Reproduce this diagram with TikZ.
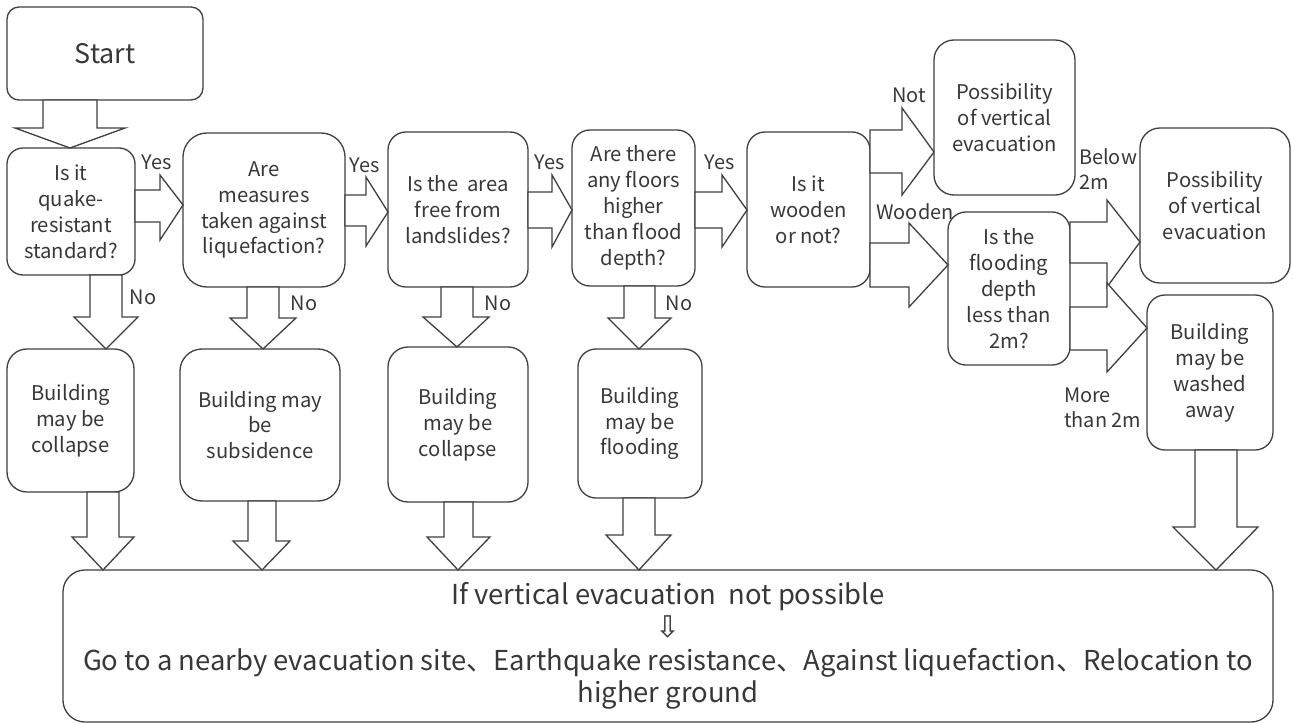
\documentclass[tikz,border=0pt]{standalone}
\usepackage{fontspec}
\setmainfont{Noto Sans CJK JP}
\newfontfamily\symfont{DejaVu Sans}
\definecolor{ln}{HTML}{404040}
\definecolor{tx}{HTML}{383838}
\tikzset{
 box/.style={draw=ln, line width=1.3bp, fill=white, align=center, inner sep=0pt, outer sep=0pt, text=tx, font=\fontsize{20.3}{26}\selectfont},
 blk/.style={draw=ln, line width=1.3bp, fill=white, line join=miter},
 lbl/.style={text=tx, font=\fontsize{20}{25}\selectfont, inner sep=0pt},
}
% right block arrow: from, to, head base x, shaft top y, shaft bottom y, head top y, head bottom y, tip y
\newcommand\rarr[8]{\draw[blk] (#1.east|-0,#4) -- (#3,#4) -- (#3,#6) -- (#2.west|-0,#8) -- (#3,#7) -- (#3,#5) -- (#1.east|-0,#5) -- cycle;}
% down block arrow: from, to, head base y, shaft left x, shaft right x, head left x, head right x, tip x
\newcommand\darr[8]{\draw[blk] (#4,0|-#1.south) -- (#4,#3) -- (#6,#3) -- (#8,0|-#2.north) -- (#7,#3) -- (#5,#3) -- (#5,0|-#1.south) -- cycle;}
\begin{document}
\begin{tikzpicture}[x=1bp,y=-1bp]
\fill[white] (0,0) rectangle (1293,724);
\useasboundingbox (0,0) rectangle (1293,724);
% nodes
\node[box, rounded corners=12bp, minimum width=196bp, minimum height=93bp, font=\fontsize{27}{32}\selectfont] (st) at (105,53.5) {Start};
\node[box, rounded corners=16bp, minimum width=128bp, minimum height=127bp] (q1) at (71,211.5) {Is it\\quake-\\resistant\\standard?};
\node[box, rounded corners=24bp, minimum width=162bp, minimum height=154bp] (q2) at (264,210) {Are\\measures\\taken against\\liquefaction?};
\node[box, rounded corners=18bp, minimum width=140bp, minimum height=155bp] (q3) at (458,209.5) {Is the\ \ area\\free from\\landslides?};
\node[box, rounded corners=18bp, minimum width=123bp, minimum height=156bp] (q4) at (633.5,208) {Are there\\any floors\\higher\\than flood\\depth?};
\node[box, rounded corners=18bp, minimum width=123bp, minimum height=155bp] (q5) at (808.5,209.5) {Is it\\wooden\\or not?};
\node[box, rounded corners=20bp, minimum width=141bp, minimum height=155bp] (p1) at (1004.5,117.5) {Possibility\\of vertical\\evacuation};
\node[box, rounded corners=18bp, minimum width=122bp, minimum height=153bp] (q6) at (1009,288.5) {Is the\\flooding\\depth\\less than\\2m?};
\node[box, rounded corners=20bp, minimum width=150bp, minimum height=155bp] (p2) at (1215,205.5) {Possibility\\of vertical\\evacuation};
\node[box, rounded corners=18bp, minimum width=126bp, minimum height=155bp] (b9) at (1210,372.5) {Building\\may be\\washed\\away};
\node[box, rounded corners=20bp, minimum width=127bp, minimum height=143bp] (b1) at (70.5,420.5) {Building\\may be\\collapse};
\node[box, rounded corners=22bp, minimum width=160bp, minimum height=152bp] (b2) at (260,425) {Building may\\be\\subsidence};
\node[box, rounded corners=20bp, minimum width=140bp, minimum height=155bp] (b3) at (458,424.5) {Building\\may be\\collapse};
\node[box, rounded corners=18bp, minimum width=124bp, minimum height=149bp] (b4) at (640,423.5) {Building\\may be\\flooding};
\node[box, rounded corners=22bp, minimum width=1210bp, minimum height=152bp, font=\fontsize{27.5}{33}\selectfont] (bt) at (668,646) {If vertical evacuation\ \ not possible\\{\symfont\fontsize{30}{33}\selectfont ⇩}\\Go to a nearby evacuation site、Earthquake resistance、Against liquefaction、Relocation to\\higher ground};
% right arrows
\rarr{q1}{q2}{160}{190}{222}{175}{240}{205}
\rarr{q2}{q3}{366}{195}{226}{177}{246}{212}
\rarr{q3}{q4}{552}{192}{228}{175}{247}{210}
\rarr{q4}{q5}{722}{192}{228}{175}{247}{210}
\rarr{q5}{p1}{902}{130}{173}{108}{195}{152}
\rarr{q5}{q6}{909}{243}{287}{223}{307}{265}
\rarr{q6}{p2}{1107}{222}{263}{200}{287}{242}
\rarr{q6}{b9}{1107}{307}{350}{283}{372}{328}
% down arrows
\darr{st}{q1}{128}{43}{97}{15}{125}{70}
\darr{q1}{b1}{317}{90}{122}{74}{138}{106}
\darr{q2}{b2}{318}{247}{279}{230}{296}{263}
\darr{q3}{b3}{317}{441}{473}{423}{489}{457}
\darr{q4}{b4}{318}{624}{655}{608}{671}{639}
\darr{b1}{bt}{537}{87}{119}{72}{134}{103}
\darr{b2}{bt}{541}{248}{276}{233}{290}{262}
\darr{b3}{bt}{537}{444}{473}{427}{490}{458}
\darr{b4}{bt}{535}{623}{655}{606}{671}{639}
\darr{b9}{bt}{527}{1195}{1237}{1173}{1258}{1216}
% labels
\node[lbl] (y1) at (157,162) {Yes};
\node[lbl] (y2) at (365,165) {Yes};
\node[lbl] (y3) at (550,162) {Yes};
\node[lbl] (y4) at (720,162) {Yes};
\node[lbl] (n1) at (143,297) {No};
\node[lbl] (n2) at (304,303) {No};
\node[lbl] (n3) at (498,303) {No};
\node[lbl] (n4) at (679,303) {No};
\node[lbl] (lnot) at (909,95) {Not};
\node[lbl] (lwood) at (915,212) {Wooden};
\node[lbl, align=left, anchor=west] (lbelow) at (1079,169.5) {Below\\2m};
\node[lbl, align=left, anchor=west] (lmore) at (1064,407.5) {More\\than 2m};
\end{tikzpicture}
\end{document}
